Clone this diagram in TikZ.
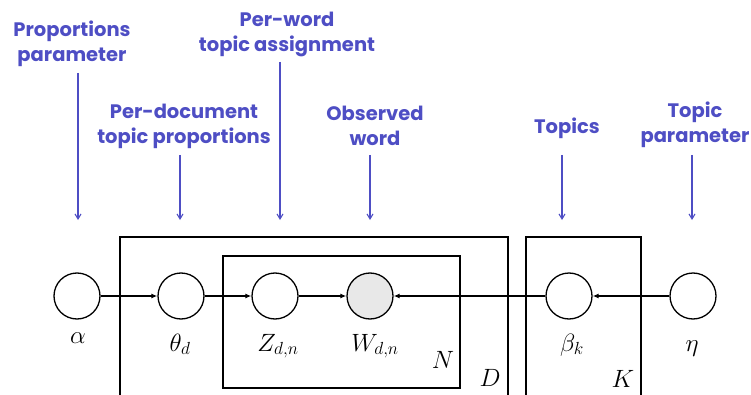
\documentclass[tikz,border=0pt]{standalone}
\usepackage{fix-cm}
\usepackage{fontspec}
\setsansfont{Poppins}
\usetikzlibrary{arrows.meta}

\definecolor{notegray}{RGB}{232,232,232}
\definecolor{noteblue}{RGB}{78,78,196}

\tikzset{
  var/.style={circle, draw, line width=1.3pt, minimum size=46pt, inner sep=0pt},
  obs/.style={var, fill=notegray},
  plate/.style={line width=1.6pt},
  edge/.style={-{Latex[length=6pt,width=5pt]}, line width=1.2pt},
  mathlab/.style={font=\fontsize{25}{28}\selectfont, inner sep=0pt, anchor=base},
  note/.style={font=\sffamily\bfseries\fontsize{19.5}{25}\selectfont, text=noteblue, align=center, inner sep=0pt},
  pointer/.style={-{Straight Barb[length=5pt,width=6pt]}, noteblue, line width=1.1pt}
}

\begin{document}
\begin{tikzpicture}[x=1pt,y=-1pt]
    \useasboundingbox (0,0) rectangle (751,395);

    % plates
    \draw[plate] (120,237) rectangle (508,400);
    \draw[plate] (223,256) rectangle (460,388);
    \draw[plate] (526,237) rectangle (641,400);
    \node[mathlab] (nlab) at (443,368) {$N$};
    \node[mathlab] (dlab) at (490,386) {$D$};
    \node[mathlab] (klab) at (623,387) {$K$};

    % variables
    \node[var] (alpha) at (77,296) {};
    \node[var] (theta) at (181,296) {};
    \node[var] (z) at (275,296) {};
    \node[obs] (w) at (370,296) {};
    \node[var] (beta) at (569,296) {};
    \node[var] (eta) at (693,296) {};

    \node[mathlab] (alphalab) at (78,343) {$\alpha$};
    \node[mathlab] (thetalab) at (180,351) {$\theta_d$};
    \node[mathlab] (zlab) at (278,351) {$Z_{d,n}$};
    \node[mathlab] (wlab) at (375,351) {$W_{d,n}$};
    \node[mathlab] (betalab) at (572,351) {$\beta_k$};
    \node[mathlab] (etalab) at (692,351) {$\eta$};

    \draw[edge] (alpha) -- (theta);
    \draw[edge] (theta) -- (z);
    \draw[edge] (z) -- (w);
    \draw[edge] (beta) -- (w);
    \draw[edge] (eta) -- (beta);

    % notes on top
    \node[note] (propnote) at (72,44) {Proportions\\parameter};
    \node[note] (wordnote) at (287,34) {Per-word\\topic assignment};
    \node[note] (docnote) at (184,126) {Per-document\\topic proportions};
    \node[note] (obsnote) at (375,126) {Observed\\word};
    \node[note] (topicnote) at (567,128) {Topics};
    \node[note] (parnote) at (695,125) {Topic\\parameter};

    \coordinate (alphatip) at (78,220);
    \coordinate (thetatip) at (180,220);
    \coordinate (ztip) at (280,220);
    \coordinate (wtip) at (370,220);
    \coordinate (betatip) at (562,220);
    \coordinate (etatip) at (692,220);

    \draw[pointer] (alphatip |- 0,73) -- (alphatip);
    \draw[pointer] (thetatip |- 0,155) -- (thetatip);
    \draw[pointer] (ztip |- 0,62) -- (ztip);
    \draw[pointer] (wtip |- 0,155) -- (wtip);
    \draw[pointer] (betatip |- 0,155) -- (betatip);
    \draw[pointer] (etatip |- 0,155) -- (etatip);
\end{tikzpicture}
\end{document}
